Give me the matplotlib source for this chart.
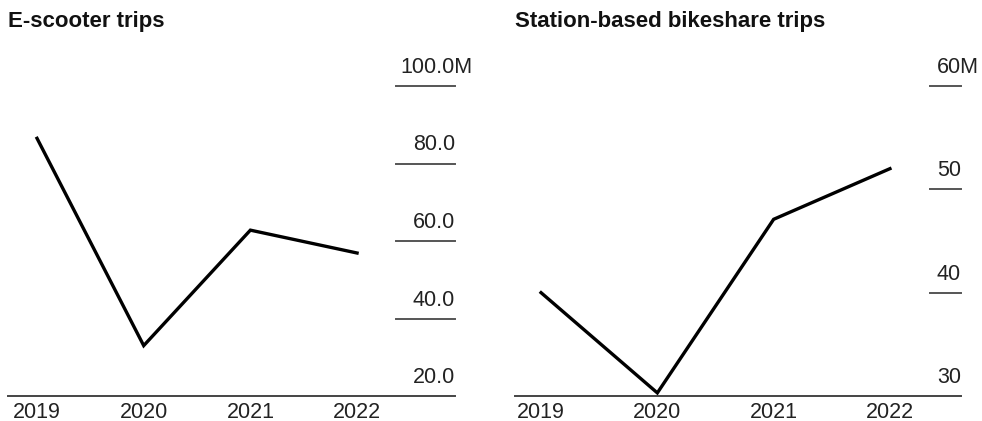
import matplotlib.pyplot as plt

plt.rcParams['font.family'] = ['Liberation Sans', 'DejaVu Sans']

years = ['2019', '2020', '2021', '2022']
scooter_trips = [86.5, 33.0, 62.8, 56.9]
bikeshare_trips = [40.0, 30.3, 47.1, 52.0]

scooter_ticks = [20, 40, 60, 80, 100]
scooter_labels = ['20.0', '40.0', '60.0', '80.0', '100.0']
bike_ticks = [30, 40, 50, 60]
bike_labels = ['30', '40', '50', '60']

W, H = 982, 421
FS = 15.5
fig = plt.figure(figsize=(W / 100, H / 100), dpi=100)
renderer = fig.canvas.get_renderer()

def text_width(s):
    t = fig.text(0, 0, s, fontsize=FS)
    w = t.get_window_extent(renderer).width
    t.remove()
    return w

def px_axes(x0, x1, y0, y1):
    return fig.add_axes([x0 / W, 1 - y1 / H, (x1 - x0) / W, (y1 - y0) / H])

def panel(ax, values, ticks, labels, ylim, xlim, grid_from):
    xs = range(len(values))
    ax.plot(xs, values, color='black', lw=2.4, solid_joinstyle='miter', zorder=3)
    ax.set_xlim(*xlim)
    ax.set_ylim(*ylim)
    for s in ['top', 'left', 'right']:
        ax.spines[s].set_visible(False)
    ax.spines['bottom'].set_color('#444444')
    ax.spines['bottom'].set_linewidth(1.4)
    ax.set_yticks([])
    ax.set_xticks(list(xs))
    ax.set_xticklabels(years, fontsize=FS, color='#222222')
    ax.tick_params(axis='x', length=0, pad=4)
    tr = ax.get_yaxis_transform()
    for i, (t, lab) in enumerate(zip(ticks, labels)):
        if t != ylim[0]:
            ax.plot([grid_from, 1.0], [t, t], transform=tr, color='#555555',
                    lw=1.4, clip_on=False)
        # top label carries the unit, which hangs past the right edge
        dx = 0
        if i == len(ticks) - 1:
            dx = text_width(lab + 'M') - text_width(lab)
            lab = lab + 'M'
        ax.annotate(lab, (1.0, t), xycoords=tr, xytext=(dx, 13),
                    textcoords='offset pixels', ha='right', va='baseline',
                    fontsize=FS, color='#222222', annotation_clip=False)

ax1 = px_axes(8, 455, 86, 396)
panel(ax1, scooter_trips, scooter_ticks, scooter_labels,
      (20, 100), (-0.272, 3.918), (396 - 8) / 447)
fig.text(8 / W, 1 - 27 / H, 'E-scooter trips', fontsize=16,
         fontweight='bold', color='#111111', ha='left', va='baseline')

ax2 = px_axes(515, 961, 86, 396)
panel(ax2, bikeshare_trips, bike_ticks, bike_labels,
      (30, 60), (-0.224, 3.611), (930 - 515) / 446)
fig.text(515 / W, 1 - 27 / H, 'Station-based bikeshare trips', fontsize=16,
         fontweight='bold', color='#111111', ha='left', va='baseline')

fig.savefig('out.png', dpi=100, facecolor='white')
